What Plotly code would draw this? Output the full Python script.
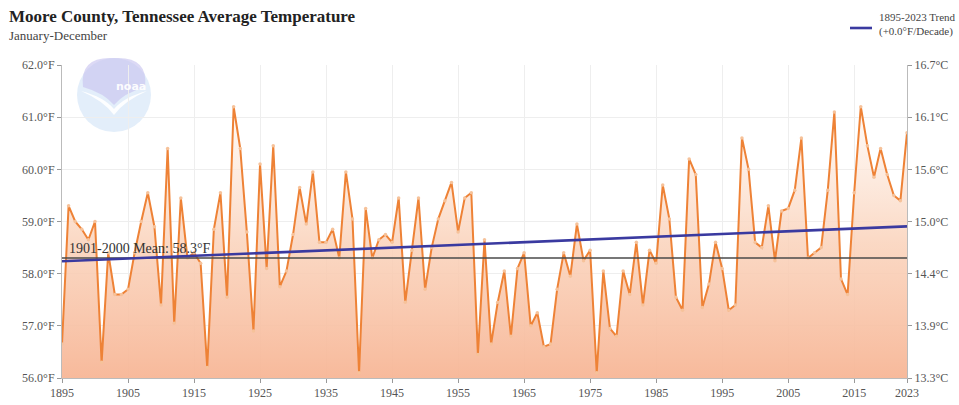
import numpy as np
import plotly.graph_objects as go

# Annual average temperature, Moore County, Tennessee (January-December)
years = list(range(1895, 2024))
temps_f = [
    56.65, 59.3, 59.0, 58.85, 58.65, 59.0, 56.3, 58.4, 57.6, 57.6,      # 1895-1904
    57.7, 58.4, 59.0, 59.55, 58.9, 57.4, 60.4, 57.05, 59.45, 58.3,      # 1905-1914
    58.4, 58.2, 56.2, 58.85, 59.55, 57.55, 61.2, 60.4, 58.8, 56.9,      # 1915-1924
    60.1, 58.1, 60.45, 57.75, 58.05, 58.75, 59.65, 58.95, 59.95, 58.6,  # 1925-1934
    58.6, 58.85, 58.3, 59.95, 59.05, 56.1, 59.25, 58.3, 58.65, 58.75,   # 1935-1944
    58.6, 59.45, 57.45, 58.45, 59.45, 57.7, 58.5, 59.05, 59.4, 59.75,   # 1945-1954
    58.8, 59.45, 59.55, 56.45, 58.65, 56.65, 57.45, 58.05, 56.8, 58.1,  # 1955-1964
    58.4, 57.0, 57.25, 56.6, 56.65, 57.7, 58.4, 57.95, 58.95, 58.25,    # 1965-1974
    58.45, 56.1, 58.05, 56.95, 56.8, 58.05, 57.6, 58.6, 57.4, 58.45,    # 1975-1984
    58.2, 59.7, 59.05, 57.55, 57.3, 60.2, 59.9, 57.35, 57.8, 58.6,      # 1985-1994
    58.1, 57.3, 57.4, 60.6, 60.0, 58.6, 58.5, 59.3, 58.25, 59.2,        # 1995-2004
    59.25, 59.6, 60.6, 58.3, 58.4, 58.5, 59.6, 61.1, 57.9, 57.6,        # 2005-2014
    59.55, 61.2, 60.45, 59.85, 60.4, 59.9, 59.5, 59.4, 60.7,            # 2015-2023
]
mean_f = 58.3
mean_label = "1901-2000 Mean: 58.3°F"
trend_label = ["1895-2023 Trend", "(+0.0°F/Decade)"]
f_ticks = [56, 57, 58, 59, 60, 61, 62]
x_ticks = [1895, 1905, 1915, 1925, 1935, 1945, 1955, 1965, 1975, 1985, 1995, 2005, 2015, 2023]

# Least-squares trend over the full record
slope, intercept = np.polyfit(years, temps_f, 1)
trend_f = [slope * y + intercept for y in years]

SERIF = "Liberation Serif, Times New Roman, serif"
W, H = 959, 405
L, R, T, B = 62, 52, 65, 27
TICK_FONT = dict(family=SERIF, size=12, color="#555")

fig = go.Figure()

# baseline for the shaded area
fig.add_trace(go.Scatter(x=years, y=[f_ticks[0]] * len(years), mode="lines",
                         line=dict(width=0), hoverinfo="skip", showlegend=False))
# temperature series with a vertical gradient fill down to the axis floor
fig.add_trace(go.Scatter(
    x=years, y=temps_f, mode="lines+markers", fill="tonexty",
    fillgradient=dict(type="vertical", start=f_ticks[0], stop=max(temps_f),
                      colorscale=[[0, "rgba(247,182,150,0.95)"],
                                  [0.5, "rgba(250,210,186,0.85)"],
                                  [1, "rgba(255,246,240,0.6)"]]),
    line=dict(color="#ee8236", width=2),
    marker=dict(size=3.5, color="#f6c29a", line=dict(width=0)),
    showlegend=False))
# 1901-2000 mean
fig.add_trace(go.Scatter(x=[years[0], years[-1]], y=[mean_f, mean_f], mode="lines",
                         line=dict(color="#4a4a4a", width=1.6), showlegend=False))
# trend
fig.add_trace(go.Scatter(x=years, y=trend_f, mode="lines",
                         line=dict(color="#3a3aa0", width=2.6), showlegend=False))
# Celsius axis carrier
fig.add_trace(go.Scatter(x=[years[0]], y=[f_ticks[0]], yaxis="y2", mode="markers",
                         marker=dict(opacity=0), hoverinfo="skip", showlegend=False))

fig.update_layout(
    width=W, height=H,
    margin=dict(l=L, r=R, t=T, b=B, autoexpand=False),
    paper_bgcolor="white", plot_bgcolor="white",
    font=dict(family=SERIF, size=12, color="#555"),
    xaxis=dict(range=[years[0], years[-1]], tickvals=x_ticks, ticks="outside",
               ticklen=4, tickcolor="#999", showgrid=True, gridcolor="#eeeeee",
               showline=True, linecolor="#bbb", zeroline=False, tickfont=TICK_FONT,
               automargin=False),
    yaxis=dict(range=[f_ticks[0], f_ticks[-1]], tickvals=f_ticks,
               ticktext=[f"{v:.1f}°F" for v in f_ticks], ticks="outside",
               ticklen=4, tickcolor="#999", showgrid=True, gridcolor="#eeeeee",
               showline=True, linecolor="#bbb", zeroline=False, tickfont=TICK_FONT,
               automargin=False),
    yaxis2=dict(overlaying="y", side="right", range=[f_ticks[0], f_ticks[-1]],
                tickvals=f_ticks,
                ticktext=[f"{(v - 32) * 5 / 9:.1f}°C" for v in f_ticks],
                ticks="outside", ticklen=4, tickcolor="#999", showgrid=False,
                showline=True, linecolor="#bbb", zeroline=False, tickfont=TICK_FONT,
                automargin=False),
)


def px(xp):
    return (xp - L) / (W - L - R)


def py(yp):
    return (H - B - yp) / (H - T - B)


# titles
fig.add_annotation(text="<b>Moore County, Tennessee Average Temperature</b>",
                   xref="paper", yref="paper", x=px(7), y=py(5),
                   xanchor="left", yanchor="top", showarrow=False,
                   font=dict(family=SERIF, size=17, color="#222"))
fig.add_annotation(text="January-December",
                   xref="paper", yref="paper", x=px(7), y=py(26),
                   xanchor="left", yanchor="top", showarrow=False,
                   font=dict(family=SERIF, size=13, color="#444"))

# mean label
fig.add_annotation(text=mean_label, x=years[0] + 0.8, y=mean_f, xanchor="left",
                   yanchor="bottom", yshift=0, showarrow=False,
                   font=dict(family=SERIF, size=14, color="#333"))

# trend legend
fig.add_shape(type="line", xref="paper", yref="paper", x0=px(850), x1=px(872),
              y0=py(28), y1=py(28), line=dict(color="#3a3aa0", width=2.6))
fig.add_annotation(text=trend_label[0] + "<br>" + trend_label[1], xref="paper", yref="paper",
                   x=px(877), y=py(9), xanchor="left", yanchor="top", align="left",
                   showarrow=False, font=dict(family=SERIF, size=11, color="#444"))

# faint emblem in the upper-left of the plot
cx, cy, rad = 114, 95, 37
fig.add_shape(type="circle", xref="paper", yref="paper",
              x0=px(cx - rad), x1=px(cx + rad), y0=py(cy + rad), y1=py(cy - rad),
              fillcolor="rgba(208,227,246,0.6)", line=dict(width=0), layer="below")
upper = (f"M {px(cx - rad + 6)},{py(cy - 8)} "
         f"Q {px(cx - rad + 2)},{py(cy - rad - 2)} {px(cx)},{py(cy - rad)} "
         f"Q {px(cx + rad - 2)},{py(cy - rad - 2)} {px(cx + rad - 6)},{py(cy - 8)} "
         f"Q {px(cx + 10)},{py(cy - 2)} {px(cx)},{py(cy + 10)} "
         f"Q {px(cx - 10)},{py(cy - 2)} {px(cx - rad + 6)},{py(cy - 8)} Z")
fig.add_shape(type="path", xref="paper", yref="paper", path=upper,
              fillcolor="rgba(202,196,240,0.65)", line=dict(width=0), layer="below")
swoosh = (f"M {px(cx - rad + 4)},{py(cy - 4)} "
          f"Q {px(cx - 10)},{py(cy + 2)} {px(cx)},{py(cy + 14)} "
          f"Q {px(cx + 10)},{py(cy + 2)} {px(cx + rad - 4)},{py(cy - 4)} "
          f"Q {px(cx + 10)},{py(cy + 6)} {px(cx)},{py(cy + 20)} "
          f"Q {px(cx - 10)},{py(cy + 6)} {px(cx - rad + 4)},{py(cy - 4)} Z")
fig.add_shape(type="path", xref="paper", yref="paper", path=swoosh,
              fillcolor="rgba(255,255,255,0.9)", line=dict(width=0), layer="below")
fig.add_annotation(text="<b>noaa</b>", xref="paper", yref="paper", x=px(cx), y=py(cy - 17),
                   showarrow=False, font=dict(family="DejaVu Sans", size=11,
                                              color="rgba(255,255,255,0.95)"))

fig.write_html("out.html")
